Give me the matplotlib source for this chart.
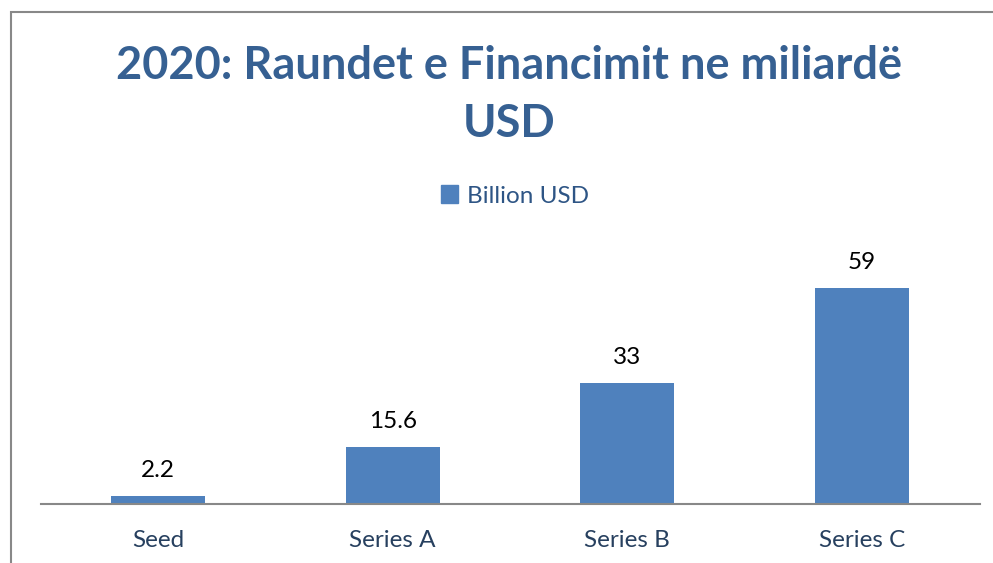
import matplotlib
matplotlib.use("Agg")
import matplotlib.pyplot as plt
from matplotlib.patches import Rectangle, Patch

categories = ["Seed", "Series A", "Series B", "Series C"]
values = [2.2, 15.6, 33, 59]
value_labels = ["2.2", "15.6", "33", "59"]
series_name = "Billion USD"
title = "2020: Raundet e Financimit ne miliardë\nUSD"

plt.rcParams['font.family'] = ['Lato', 'DejaVu Sans']

W, H = 993, 563
fig = plt.figure(figsize=(W / 100, H / 100), dpi=100)

# outer chart frame (partially cropped)
fig.patches.append(Rectangle((11 / W, -0.05), 1.1, 1 - 12 / H + 0.05,
                             transform=fig.transFigure, fill=False,
                             edgecolor="#888888", linewidth=1.5))

ax_left, ax_right = 40.5 / W, 979.5 / W
ax_bottom, ax_top = 1 - 504 / H, 1 - 230 / H
ax = fig.add_axes([ax_left, ax_bottom, ax_right - ax_left, ax_top - ax_bottom])

bar_color = "#4F81BD"
x = list(range(len(categories)))
bars = ax.bar(x, values, width=0.4, color=bar_color, label=series_name, zorder=2)
ax.set_xlim(-0.5, len(categories) - 0.5)
ax.set_ylim(0, 274 / 3.66)

ax.bar_label(bars, labels=value_labels, padding=11, fontsize=17.5, color="#000000")

for s in ["top", "right", "left"]:
    ax.spines[s].set_visible(False)
ax.spines["bottom"].set_color("#888888")
ax.spines["bottom"].set_linewidth(1.5)
ax.set_yticks([])
ax.set_xticks(x)
ax.set_xticklabels(categories, fontsize=17.5, color="#27405F")
ax.tick_params(axis="x", length=0, pad=19)

fig.text(509 / W, 1 - 95 / H, title, ha="center", va="center",
         fontsize=32.5, fontweight="bold", color="#366092", linespacing=1.45)

fig.legend(handles=[Patch(color=bar_color, label=series_name)],
           loc="center", bbox_to_anchor=(515 / W, 1 - 196 / H),
           frameon=False, fontsize=17.5, handlelength=0.7, handleheight=0.7,
           handletextpad=0.4, labelcolor="#2E5585")

fig.savefig("out.png", dpi=100)
